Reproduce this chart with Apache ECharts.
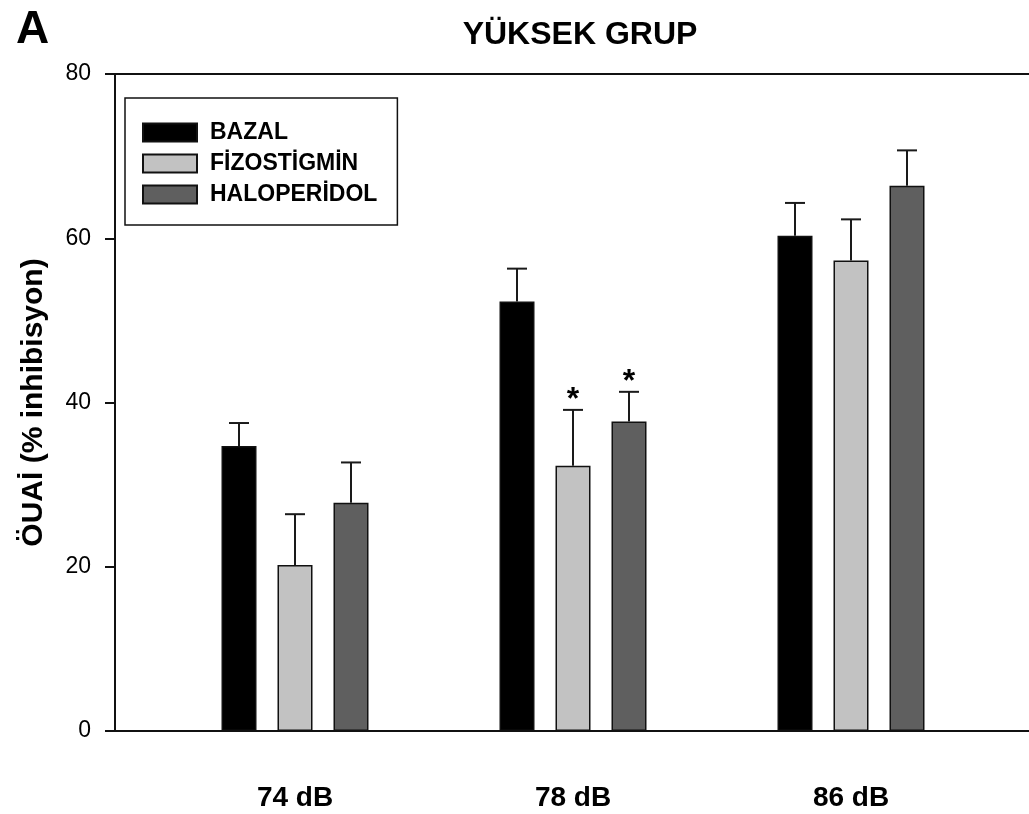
<!DOCTYPE html>
<html>
<head>
<meta charset="utf-8">
<script src="https://cdn.jsdelivr.net/npm/echarts@6/dist/echarts.min.js"></script>
<style>
html,body{margin:0;padding:0;background:#fff;}
#chart{width:1029px;height:814px;}
</style>
</head>
<body>
<div id="chart"></div>
<script>
const categories = ['74 dB', '78 dB', '86 dB'];
const seriesNames = ['BAZAL', 'FİZOSTİGMİN', 'HALOPERİDOL'];
const bazal = [34.7, 52.3, 60.3];
const bazalErr = [2.8, 4.0, 4.0];
const fizo = [20.2, 32.3, 57.3];
const fizoErr = [6.2, 6.8, 5.0];
const halo = [27.8, 37.7, 66.4];
const haloErr = [4.9, 3.6, 4.3];
const fizoSig = [false, true, false];
const haloSig = [false, true, false];
const yMin = 0, yMax = 80, yInterval = 20;

const FONT = '"Liberation Sans", Arial, sans-serif';
const colors = ['#000000', '#c2c2c2', '#5f5f5f'];
const BAR_W = 35, BAR_GAP = '60%';

const values = [bazal, fizo, halo];
const errs = [bazalErr, fizoErr, haloErr];
const sigs = [[false, false, false], fizoSig, haloSig];

const chart = echarts.init(document.getElementById('chart'), null, {renderer: 'canvas'});

const barSeries = seriesNames.map((name, i) => ({
  name: name,
  type: 'bar',
  xAxisIndex: 2,
  yAxisIndex: 1,
  data: values[i],
  barWidth: BAR_W,
  barGap: BAR_GAP,
  itemStyle: {color: colors[i], borderColor: '#111', borderWidth: 1.5},
  emphasis: {disabled: true},
  z: 2
}));

const errSeries = seriesNames.map((name, i) => ({
  type: 'custom',
  xAxisIndex: 2,
  yAxisIndex: 1,
  silent: true,
  z: 3,
  data: values[i].map((v, k) => [k, v, errs[i][k], sigs[i][k] ? 1 : 0]),
  renderItem: function (params, api) {
    const layout = api.barLayout({count: 3, barWidth: BAR_W, barGap: BAR_GAP});
    const off = layout[i].offsetCenter;
    const c = api.value(0), v = api.value(1), e = api.value(2), s = api.value(3);
    const base = api.coord([c, v]);
    const top = api.coord([c, v + e]);
    const x = base[0] + off;
    const capHalf = 10;
    const children = [
      {type: 'line', shape: {x1: x, y1: base[1], x2: x, y2: top[1]}, style: {stroke: '#1a1a1a', lineWidth: 2}},
      {type: 'line', shape: {x1: x - capHalf, y1: top[1], x2: x + capHalf, y2: top[1]}, style: {stroke: '#1a1a1a', lineWidth: 2}}
    ];
    if (s) {
      children.push({type: 'text', x: x, y: top[1] + 6,
        style: {text: '*', fill: '#000', font: 'bold 32px ' + FONT, align: 'center', verticalAlign: 'bottom'}});
    }
    return {type: 'group', children: children};
  }
}));

const option = {
  animation: false,
  backgroundColor: '#ffffff',
  title: [
    {text: 'A', left: 11, top: 2, textStyle: {fontFamily: FONT, fontWeight: 'bold', fontSize: 46, color: '#000'}},
    {text: 'YÜKSEK GRUP', left: 575, top: 14, textAlign: 'center',
      textStyle: {fontFamily: FONT, fontWeight: 'bold', fontSize: 32, color: '#000'}}
  ],
  legend: {
    orient: 'vertical',
    left: 125,
    top: 98,
    data: seriesNames,
    selectedMode: false,
    icon: 'rect',
    itemWidth: 54,
    itemHeight: 18,
    itemGap: 8,
    padding: [23, 20, 19, 17],
    borderColor: '#111',
    borderWidth: 1.5,
    borderRadius: 0,
    textStyle: {fontFamily: FONT, fontWeight: 'bold', fontSize: 23, color: '#000', padding: [0, 0, 0, 8]}
  },
  grid: [
    {left: 115, right: 0, top: 74, bottom: 83},
    {left: 156, right: 39, top: 74, bottom: 83}
  ],
  xAxis: [
    {gridIndex: 0, type: 'value', min: 0, max: 1, position: 'bottom',
      axisLine: {show: true, lineStyle: {color: '#111', width: 2}}, axisTick: {show: false}, axisLabel: {show: false}, splitLine: {show: false}},
    {gridIndex: 0, type: 'value', min: 0, max: 1, position: 'top',
      axisLine: {show: true, lineStyle: {color: '#111', width: 2}}, axisTick: {show: false}, axisLabel: {show: false}, splitLine: {show: false}},
    {gridIndex: 1, type: 'category', data: categories, position: 'bottom',
      axisLine: {show: false}, axisTick: {show: false}, splitLine: {show: false},
      axisLabel: {margin: 53, fontFamily: FONT, fontWeight: 'bold', fontSize: 28, color: '#000'}}
  ],
  yAxis: [
    {gridIndex: 0, type: 'value', min: yMin, max: yMax, interval: yInterval,
      name: 'ÖUAİ (% inhibisyon)', nameLocation: 'middle', nameGap: 66, nameRotate: 90,
      nameTextStyle: {fontFamily: FONT, fontWeight: 'bold', fontSize: 30, color: '#000'},
      axisLine: {show: true, lineStyle: {color: '#111', width: 2}},
      axisTick: {show: true, inside: false, length: 10, lineStyle: {color: '#111', width: 2}},
      axisLabel: {margin: 24, fontFamily: FONT, fontSize: 23, color: '#000'},
      splitLine: {show: false}},
    {gridIndex: 1, type: 'value', min: yMin, max: yMax, interval: yInterval, show: false, splitLine: {show: false}}
  ],
  series: barSeries.concat(errSeries)
};
chart.setOption(option);
</script>
</body>
</html>
